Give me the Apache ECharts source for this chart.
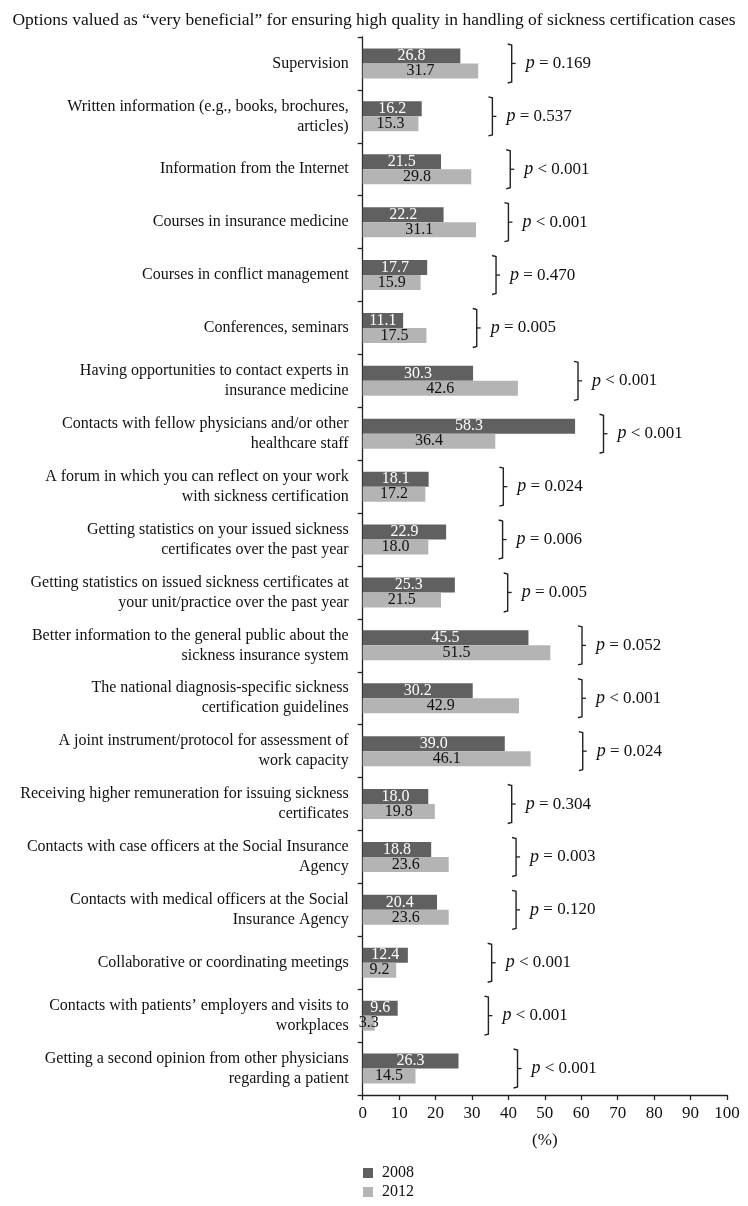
<!DOCTYPE html>
<html>
<head>
<meta charset="utf-8">
<script src="https://cdn.jsdelivr.net/npm/echarts@6/dist/echarts.min.js"></script>
<style>
html,body{margin:0;padding:0;background:#fff;}
#main{width:748px;height:1206px;}
</style>
</head>
<body>
<div id="main"></div>
<script>
const title = 'Options valued as \u201cvery beneficial\u201d for ensuring high quality in handling of sickness certification cases';
const categories = [
  'Supervision',
  'Written information (e.g., books, brochures,\narticles)',
  'Information from the Internet',
  'Courses in insurance medicine',
  'Courses in conflict management',
  'Conferences, seminars',
  'Having opportunities to contact experts in\ninsurance medicine',
  'Contacts with fellow physicians and/or other\nhealthcare staff',
  'A forum in which you can reflect on your work\nwith sickness certification',
  'Getting statistics on your issued sickness\ncertificates over the past year',
  'Getting statistics on issued sickness certificates at\nyour unit/practice over the past year',
  'Better information to the general public about the\nsickness insurance system',
  'The national diagnosis-specific sickness\ncertification guidelines',
  'A joint instrument/protocol for assessment of\nwork capacity',
  'Receiving higher remuneration for issuing sickness\ncertificates',
  'Contacts with case officers at the Social Insurance\nAgency',
  'Contacts with medical officers at the Social\nInsurance Agency',
  'Collaborative or coordinating meetings',
  'Contacts with patients\u2019 employers and visits to\nworkplaces',
  'Getting a second opinion from other physicians\nregarding a patient'
];
const seriesNames = ['2008', '2012'];
const values2008 = [26.8,16.2,21.5,22.2,17.7,11.1,30.3,58.3,18.1,22.9,25.3,45.5,30.2,39.0,18.0,18.8,20.4,12.4,9.6,26.3];
const values2012 = [31.7,15.3,29.8,31.1,15.9,17.5,42.6,36.4,17.2,18.0,21.5,51.5,42.9,46.1,19.8,23.6,23.6,9.2,3.3,14.5];
const pValues = ['= 0.169','= 0.537','< 0.001','< 0.001','= 0.470','= 0.005','< 0.001','< 0.001','= 0.024','= 0.006','= 0.005','= 0.052','< 0.001','= 0.024','= 0.304','= 0.003','= 0.120','< 0.001','< 0.001','< 0.001'];
// x position (in % units) where each bracket was drawn in the source
const bracketAt = [40.9,35.6,40.5,40.0,36.6,31.3,59.1,66.1,38.6,38.4,39.8,60.2,60.2,60.4,40.9,42.1,42.1,35.4,34.5,42.5];
const xTicks = {min:0, max:100, interval:10};

const FONT = '"Liberation Serif", "DejaVu Serif", serif';
const chart = echarts.init(document.getElementById('main'), null, {renderer:'canvas'});

const bracketData = bracketAt.map((b,i)=>[b, i, pValues[i]]);
const legendBase = {
  left:358, itemWidth:10, itemHeight:10, icon:'rect',
  textStyle:{fontFamily:FONT, fontSize:16, color:'#111', padding:[0,0,0,4]}
};

chart.setOption({
  backgroundColor:'#fff',
  animation:false,
  textStyle:{fontFamily:FONT, color:'#111'},
  title:{
    text:title, left:'center', top:6,
    textStyle:{fontFamily:FONT, fontSize:17.5, fontWeight:'normal', color:'#111'}
  },
  legend:[
    Object.assign({top:1160, data:[seriesNames[0]]}, legendBase),
    Object.assign({top:1179, data:[seriesNames[1]]}, legendBase)
  ],
  grid:{left:362.7, right:21, top:37, bottom:111, containLabel:false},
  xAxis:{
    type:'value', min:xTicks.min, max:xTicks.max, interval:xTicks.interval,
    name:'(%)', nameLocation:'middle', nameGap:37,
    nameTextStyle:{fontFamily:FONT, fontSize:17, color:'#111'},
    axisLine:{show:true, lineStyle:{color:'#222', width:1.3}},
    axisTick:{show:true, length:5, lineStyle:{color:'#222', width:1.3}},
    axisLabel:{fontFamily:FONT, fontSize:17, color:'#111', margin:10},
    splitLine:{show:false}
  },
  yAxis:{
    type:'category', inverse:true, data:categories,
    axisLine:{show:true, lineStyle:{color:'#222', width:1.3}},
    axisTick:{show:true, length:5, lineStyle:{color:'#222', width:1.3}},
    axisLabel:{fontFamily:FONT, fontSize:16, color:'#111', margin:14, lineHeight:20, align:'right'}
  },
  series:[
    {
      name:seriesNames[0], type:'bar', data:values2008, barWidth:15, barGap:'0%',
      itemStyle:{color:'#606060'},
      label:{show:true, position:'inside', color:'#fff', fontFamily:FONT, fontSize:16,
        formatter:p=>p.value.toFixed(1)}
    },
    {
      name:seriesNames[1], type:'bar', data:values2012, barWidth:15, barGap:'0%',
      itemStyle:{color:'#b4b4b4'},
      label:{show:true, position:'inside', color:'#111', fontFamily:FONT, fontSize:16,
        formatter:p=>p.value.toFixed(1)}
    },
    {
      type:'custom', name:'brackets', silent:true, z:5,
      data:bracketData,
      encode:{x:0, y:1},
      renderItem:function(params, api){
        const pt = api.coord([api.value(0), api.value(1)]);
        const x = pt[0], y = pt[1];
        const h = 19.5;
        return {
          type:'group',
          children:[
            {type:'polyline', shape:{points:[[x-4,y-h],[x,y-h+1],[x,y+h-1],[x-4,y+h]]},
             style:{stroke:'#222', lineWidth:1.4, fill:null}},
            {type:'line', shape:{x1:x, y1:y, x2:x+4, y2:y},
             style:{stroke:'#222', lineWidth:1.3}},
            {type:'text', x:x+14, y:y,
             style:{text:'{i|p} ' + bracketData[params.dataIndex][2],
               rich:{i:{fontStyle:'italic', fontFamily:FONT, fontSize:18, fill:'#111'}},
               fontFamily:FONT, fontSize:17, fill:'#111', verticalAlign:'middle', align:'left'}}
          ]
        };
      }
    }
  ]
});
</script>
</body>
</html>
